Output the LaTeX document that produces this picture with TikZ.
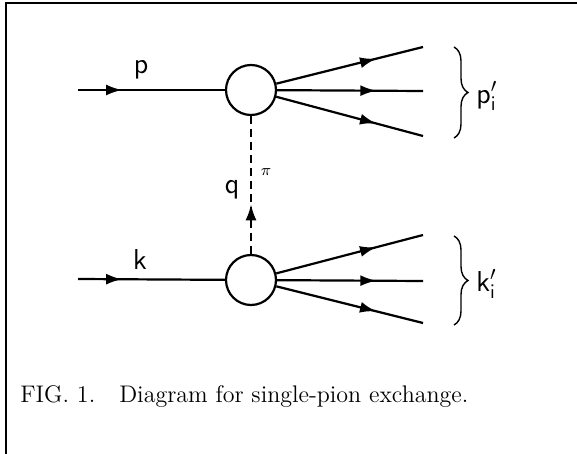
\documentclass[tikz,border=0pt]{standalone}
\usetikzlibrary{arrows.meta,decorations.markings,decorations.pathreplacing}
\tikzset{
  blob/.style={circle,draw,line width=1.1pt,minimum size=25pt,inner sep=0pt},
  leg/.style={line width=1.1pt,postaction={decorate},
    decoration={markings,mark=at position #1 with {\arrow[solid]{Latex[length=8pt,width=5.5pt]}}}},
  lbl/.style={font=\sffamily\Large,inner sep=0pt},
  grp/.style={line width=0.7pt,decorate,decoration={brace,amplitude=7pt}}
}
\begin{document}
\begin{tikzpicture}[x=0.5pt,y=-0.5pt]
\useasboundingbox (0,0) rectangle (577,454);
\draw[line width=1.2pt] (6,454) -- (6,3) -- (577,3);
% vertices
\node[blob] (top) at (251,90) {};
\node[blob] (bot) at (251,280) {};
% free ends
\coordinate (pin) at (78,90);
\coordinate (kin) at (78,279);
\coordinate (p1) at (423,47);
\coordinate (p2) at (423,91);
\coordinate (p3) at (423,136);
\coordinate (k1) at (423,235);
\coordinate (k2) at (423,281);
\coordinate (k3) at (423,323);
\draw[leg=0.3] (pin) -- (top);
\draw[leg=0.3] (kin) -- (bot);
\foreach \i in {1,2,3}{
  \draw[leg=0.68] (top) -- (p\i);
  \draw[leg=0.68] (bot) -- (k\i);
}
\draw[leg=0.36,dash pattern=on 4pt off 2.5pt] (bot) -- (top);
% labels
\node[lbl] (plbl) at (141,70) {p};
\node[lbl] (klbl) at (140,260) {k};
\node[lbl] (qlbl) at (232,190) {q};
\node (pilbl) at (266,172) {\footnotesize$\pi$};
% outgoing groups
\coordinate (pa) at (454,47);
\coordinate (pb) at (454,138);
\coordinate (ka) at (454,236);
\coordinate (kb) at (454,325);
\draw[grp] (pa) -- (pb);
\draw[grp] (ka) -- (kb);
\node[lbl,anchor=west] (pout) at (476,96) {$\mathsf{p}'_{\mathsf{i}}$};
\node[lbl,anchor=west] (kout) at (476,284) {$\mathsf{k}'_{\mathsf{i}}$};
\node[anchor=base west,inner sep=0pt,font=\large] (cap) at (20,402) {FIG.\ 1.\quad Diagram for single-pion exchange.};
\end{tikzpicture}
\end{document}
